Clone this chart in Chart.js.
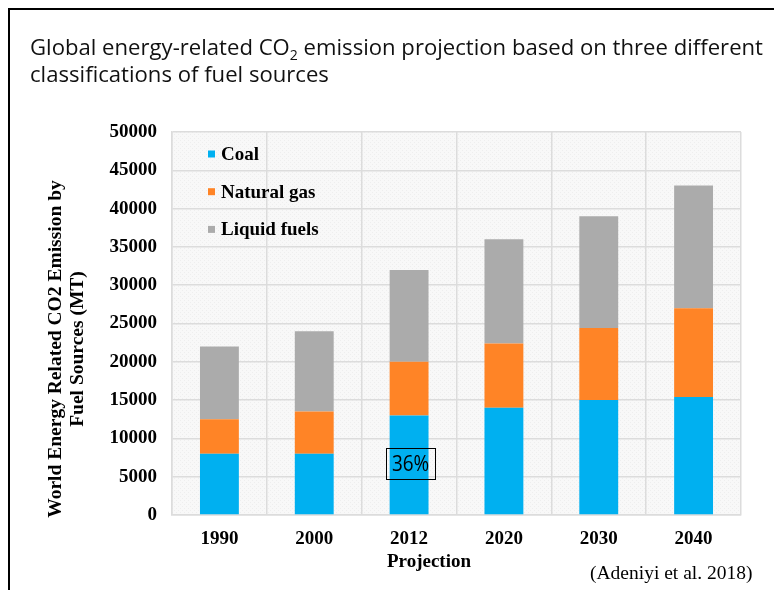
<!DOCTYPE html>
<html>
<head>
<meta charset="utf-8">
<script src="https://cdn.jsdelivr.net/npm/chart.js"></script>
<style>
  html, body { margin: 0; padding: 0; background: #ffffff; }
  #wrap { position: relative; width: 774px; height: 590px; }
  canvas { display: block; }
</style>
</head>
<body>
<div id="wrap"><canvas id="c" width="774" height="590"></canvas></div>
<script>
// ---- data ----
const categories = ['1990', '2000', '2012', '2020', '2030', '2040'];
const coal = [8000, 8000, 13000, 14000, 15000, 15400];
const naturalGas = [4500, 5500, 7000, 8400, 9400, 11600];
const liquidFuels = [9500, 10500, 12000, 13600, 14600, 16000];
const seriesLabels = ['Coal', 'Natural gas', 'Liquid fuels'];
const yMin = 0, yMax = 50000, yStep = 5000;
const annotationText = '36%';
const annotationCategory = '2012';
const annotationValue = 6700;

const colors = ['#00b0f0', '#ff8426', '#ababab'];
const SERIF = '"Liberation Serif", "Times New Roman", serif';
const SANS = '"Open Sans", "Noto Sans", sans-serif';

function makePattern(ctx) {
  const p = document.createElement('canvas');
  p.width = 4; p.height = 4;
  const g = p.getContext('2d');
  g.fillStyle = '#f8f8f8';
  g.fillRect(0, 0, 4, 4);
  g.fillStyle = '#eeeeee';
  g.fillRect(0, 0, 1, 1);
  g.fillRect(2, 2, 1, 1);
  return ctx.createPattern(p, 'repeat');
}

const decor = {
  id: 'decor',
  beforeDraw(chart) {
    const ctx = chart.ctx;
    const a = chart.chartArea;
    ctx.save();
    ctx.fillStyle = '#ffffff';
    ctx.fillRect(0, 0, chart.width, chart.height);
    // frame
    ctx.fillStyle = '#000000';
    ctx.fillRect(8, 8, chart.width - 8, 2);
    ctx.fillRect(8, 8, 2, chart.height - 8);
    // plot background
    ctx.fillStyle = makePattern(ctx);
    ctx.fillRect(a.left, a.top, a.right - a.left, a.bottom - a.top);

    // title
    ctx.fillStyle = '#111111';
    const mainFont = '22px ' + SANS;
    const subFont = '14px ' + SANS;
    const parts = [
      { t: 'Global energy-related CO', f: mainFont, dy: 0 },
      { t: '2', f: subFont, dy: 5 },
      { t: ' emission projection based on three different', f: mainFont, dy: 0 }
    ];
    let w = 0;
    parts.forEach(p => { ctx.font = p.f; p.w = ctx.measureText(p.t).width; w += p.w; });
    const s = 733 / w;
    ctx.textBaseline = 'alphabetic';
    ctx.textAlign = 'left';
    ctx.save();
    ctx.translate(30, 55);
    ctx.scale(s, 1);
    let x = 0;
    parts.forEach(p => { ctx.font = p.f; ctx.fillText(p.t, x, p.dy); x += p.w; });
    ctx.restore();
    ctx.save();
    ctx.translate(30, 82);
    ctx.scale(s, 1);
    ctx.font = mainFont;
    ctx.fillText('classifications of fuel sources', 0, 0);
    ctx.restore();

    // y-axis title
    ctx.fillStyle = '#000000';
    ctx.font = 'bold 19.5px ' + SERIF;
    ctx.textAlign = 'center';
    ctx.textBaseline = 'middle';
    ctx.save();
    ctx.translate(56, 349);
    ctx.rotate(-Math.PI / 2);
    ctx.fillText('World Energy Related CO2 Emission by', 0, 0);
    ctx.restore();
    ctx.save();
    ctx.translate(78, 349);
    ctx.rotate(-Math.PI / 2);
    ctx.fillText('Fuel Sources (MT)', 0, 0);
    ctx.restore();

    // x-axis title
    ctx.font = 'bold 19px ' + SERIF;
    ctx.fillText('Projection', 429, 562);

    // citation
    ctx.font = '19.5px ' + SERIF;
    ctx.textAlign = 'left';
    ctx.fillText('(Adeniyi et al. 2018)', 590, 574);
    ctx.restore();
  },
  afterDatasetsDraw(chart) {
    const ctx = chart.ctx;
    const a = chart.chartArea;
    ctx.save();
    // legend
    ctx.font = 'bold 19px ' + SERIF;
    ctx.textAlign = 'left';
    ctx.textBaseline = 'middle';
    chart.data.datasets.forEach((ds, i) => {
      const cy = a.top + 22 + i * 37.7;
      ctx.fillStyle = ds.backgroundColor;
      ctx.fillRect(a.left + 36, cy - 3.5, 7, 7);
      ctx.fillStyle = '#000000';
      ctx.fillText(ds.label, a.left + 49, cy + 1);
    });
    // annotation box
    const xs = chart.scales.x, ys = chart.scales.y;
    const cx = xs.getPixelForValue(categories.indexOf(annotationCategory)) + 1.5;
    const cy = ys.getPixelForValue(annotationValue);
    ctx.strokeStyle = '#000000';
    ctx.lineWidth = 1;
    ctx.strokeRect(Math.round(cx - 24.5) + 0.5, Math.round(cy - 15.5) + 0.5, 49, 31);
    ctx.save();
    ctx.translate(cx, cy + 1);
    ctx.scale(0.9, 1);
    ctx.font = '21px ' + SANS;
    ctx.textAlign = 'center';
    ctx.textBaseline = 'middle';
    ctx.fillStyle = '#000000';
    ctx.fillText(annotationText, 0, 0);
    ctx.restore();
    ctx.restore();
  }
};

new Chart(document.getElementById('c'), {
  type: 'bar',
  data: {
    labels: categories,
    datasets: [
      { label: seriesLabels[0], data: coal, backgroundColor: colors[0] },
      { label: seriesLabels[1], data: naturalGas, backgroundColor: colors[1] },
      { label: seriesLabels[2], data: liquidFuels, backgroundColor: colors[2] }
    ]
  },
  options: {
    responsive: false,
    animation: false,
    layout: { padding: { left: 0, top: 132, right: 33, bottom: 0 } },
    datasets: { bar: { barPercentage: 0.41, categoryPercentage: 1 } },
    plugins: { legend: { display: false }, tooltip: { enabled: false }, title: { display: false } },
    scales: {
      x: {
        stacked: true,
        grid: { color: '#dcdcdc', lineWidth: 1.5, drawTicks: false, offset: true },
        border: { color: '#dcdcdc', width: 1.5 },
        ticks: { color: '#000000', font: { family: SERIF, size: 19, weight: 'bold' }, padding: 13 },
        afterFit(scale) { scale.height = 75; }
      },
      y: {
        stacked: true,
        min: yMin, max: yMax,
        grid: { color: '#dcdcdc', lineWidth: 1.5, drawTicks: false },
        border: { color: '#dcdcdc', width: 1.5 },
        ticks: {
          stepSize: yStep,
          color: '#000000',
          font: { family: SERIF, size: 19, weight: 'bold' },
          padding: 15,
          callback: v => String(v)
        },
        afterFit(scale) { scale.width = 172; }
      }
    }
  },
  plugins: [decor]
});
</script>
</body>
</html>
